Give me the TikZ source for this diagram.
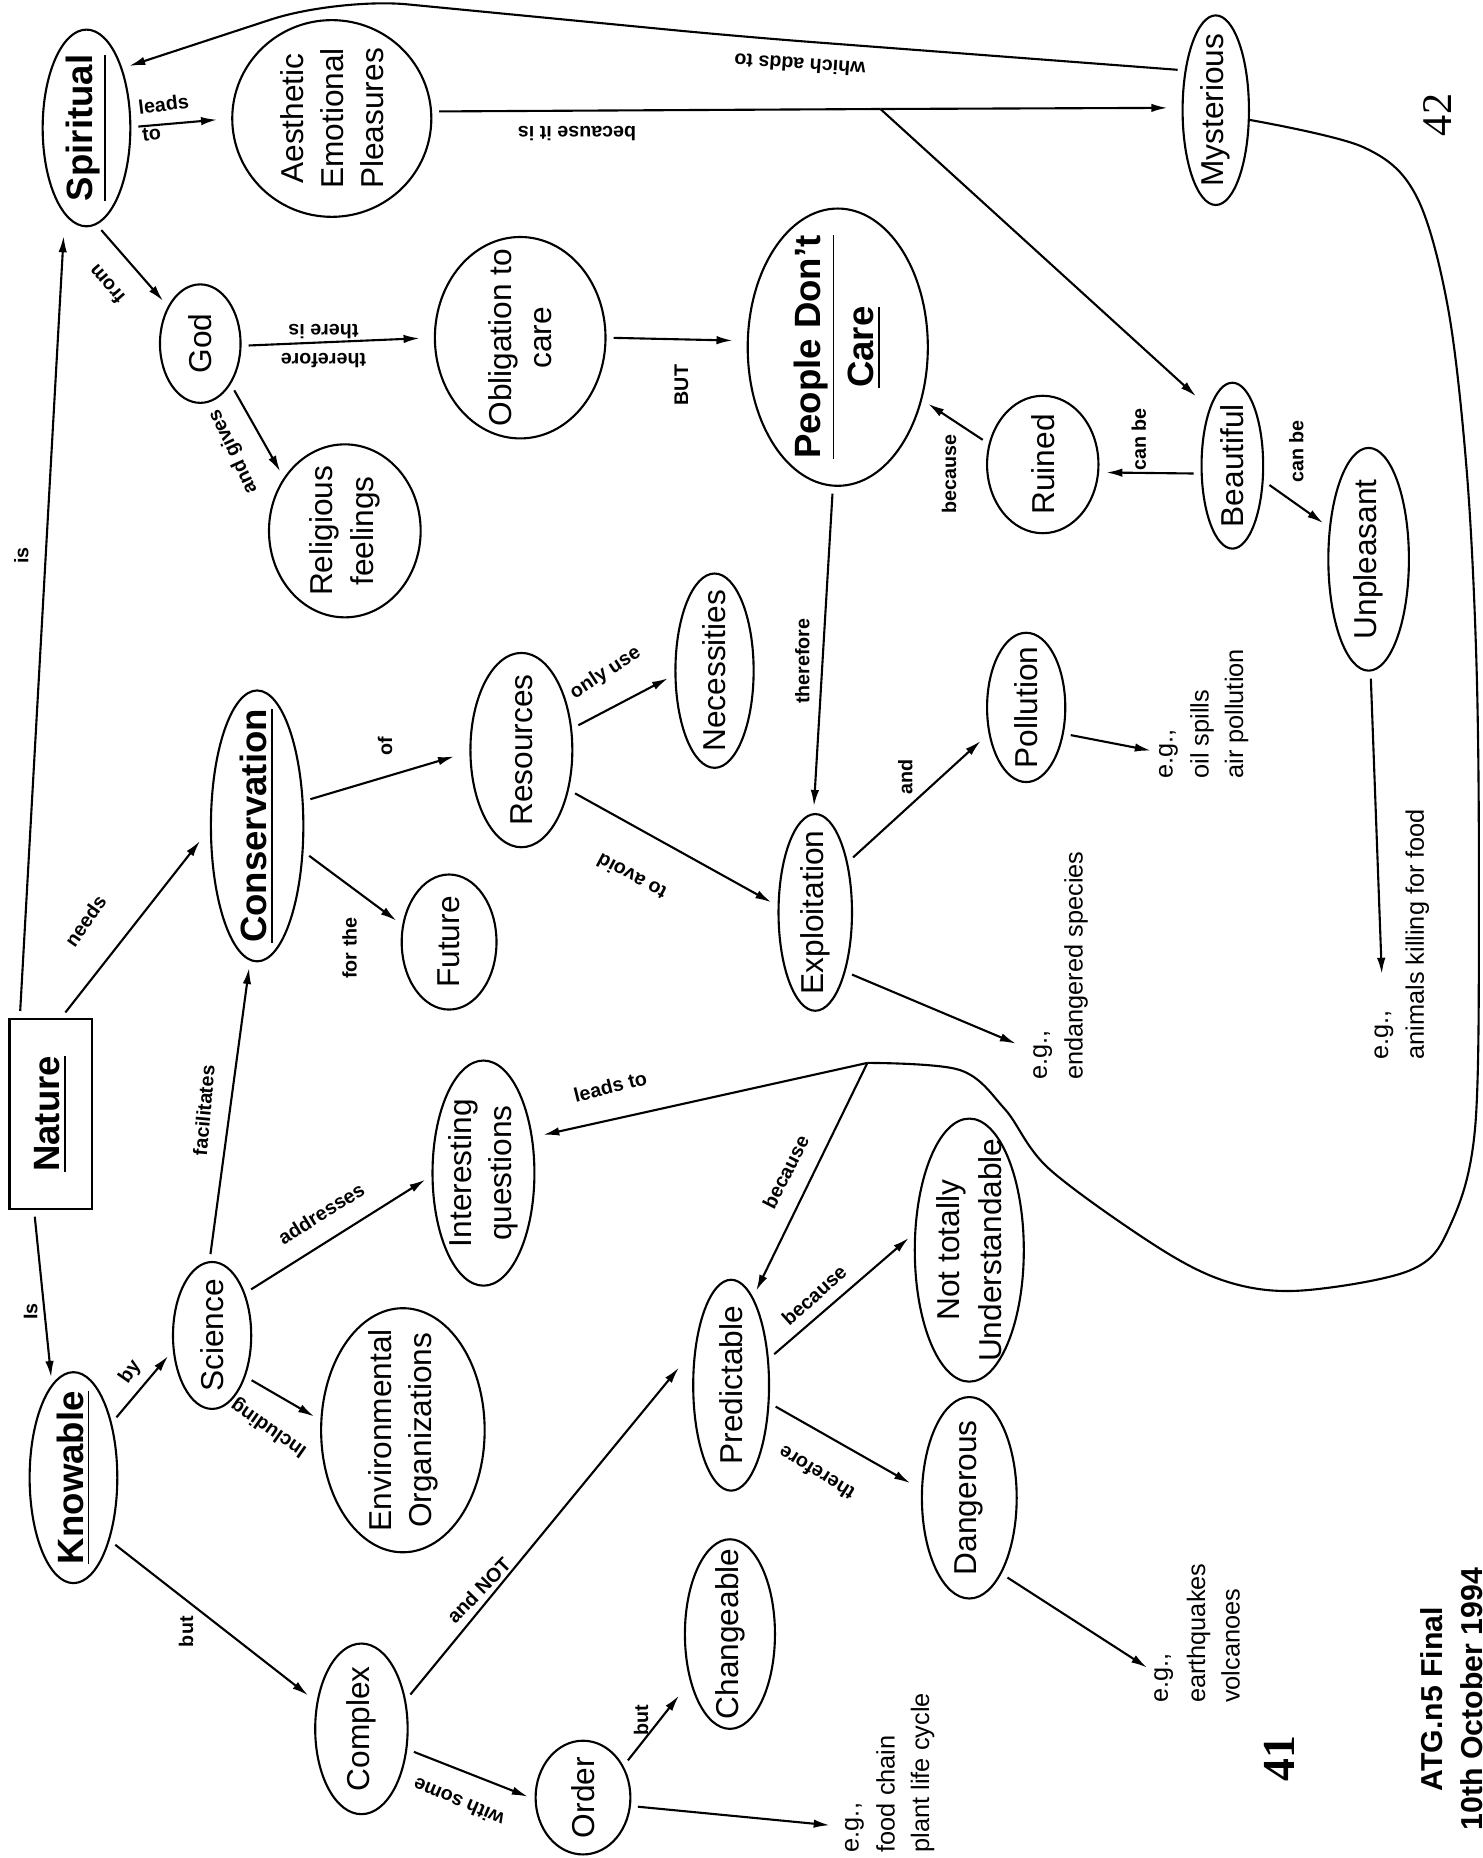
\documentclass[tikz,border=0pt]{standalone}
\usepackage{fontspec}
\setmainfont{Liberation Sans}
\newfontfamily\pagefont{Liberation Serif}
\usetikzlibrary{shapes}
\usetikzlibrary{arrows.meta}
\newcommand{\pxl}{0.011847cm}

\begin{document}
\begin{tikzpicture}[x=0.011847cm,y=-0.011847cm,line width=0.6pt]
\tikzset{concept/.style 2 args = {shape=ellipse,draw,rotate=90,inner sep=-6pt,align=center,
    minimum width=#1*\pxl,minimum height=#2*\pxl,font=\fontsize{9}{11.4}\selectfont}}
\tikzset{key/.style = {font=\fontsize{10.4}{13}\selectfont\bfseries}}
\tikzset{edge/.style = {->,> = {Latex[length=4.6pt,width=2.4pt]},shorten >=2pt,shorten <=2pt}}
\tikzset{lbl/.style = {font=\fontsize{5.6}{6.6}\selectfont\bfseries,inner sep=0pt}}
\tikzset{eg/.style = {rotate=90,anchor=west,align=left,inner sep=0pt,font=\fontsize{7.2}{9.8}\selectfont}}
\useasboundingbox (0,0) rectangle (1251,1568);

% vertices
\node[concept={166}{74},key] (spir) at (73,108) {\underline{Spiritual}};
\node[concept={166}{168}] (aep) at (280,100) {Aesthetic\\Emotional\\Pleasures};
\node[concept={160}{56}] (mys) at (1026,93) {Mysterious};
\node[concept={100}{68}] (god) at (169,290) {God};
\node[concept={170}{144}] (obl) at (439,285) {Obligation to\\care};
\node[concept={234}{152},font=\fontsize{10.4}{15}\selectfont\bfseries] (pdc) at (707,293) {\underline{People Don't}\\\underline{Care}};
\node[concept={146}{128}] (rel) at (291,448) {Religious\\feelings};
\node[concept={116}{94}] (ruin) at (880,392) {Ruined};
\node[concept={140}{52}] (beau) at (1040,393) {Beautiful};
\node[concept={188}{68}] (unp) at (1155,472) {Unpleasant};
\node[concept={164}{66}] (nec) at (603,566) {Necessities};
\node[concept={164}{86}] (res) at (440,633) {Resources};
\node[concept={228}{78},key] (cons) at (217,697) {\underline{Conservation}};
\node[concept={126}{66}] (poll) at (866,597) {Pollution};
\node[concept={166}{62}] (expl) at (688,770) {Exploitation};
\node[concept={114}{80}] (fut) at (379,795) {Future};
\node[draw,rotate=90,minimum width=160*\pxl,minimum height=70*\pxl,key] (nat) at (43,940) {\underline{Nature}};
\node[concept={190}{86}] (intq) at (408,990) {Interesting\\questions};
\node[concept={222}{92},font=\fontsize{9}{12}\selectfont] (ntu) at (818,1055) {Not totally\\Understandable};
\node[concept={178}{74},key] (know) at (62,1247) {\underline{Knowable}};
\node[concept={124}{66}] (sci) at (179,1127) {Science};
\node[concept={206}{138}] (envo) at (340,1207) {Environmental\\Organizations};
\node[concept={178}{64}] (pred) at (617,1169) {Predictable};
\node[concept={170}{80}] (dang) at (818,1264) {Dangerous};
\node[concept={160}{76}] (chg) at (616,1379) {Changeable};
\node[concept={144}{78}] (cplx) at (305,1459) {Complex};
\node[concept={96}{80}] (ord) at (492,1517) {Order};

% examples
\node[eg] (egOil) at (986,658) {e.g.,};
\node[eg] (egOilT) at (1029,658) {oil spills\\air pollution};
\node[eg] (egEnd) at (880,912) {e.g.,};
\node[eg] (egEndT) at (908,912) {endangered species};
\node[eg] (egAnim) at (1168,895) {e.g.,};
\node[eg] (egAnimT) at (1196,895) {animals killing for food};
\node[eg] (egQuake) at (982,1438) {e.g.,};
\node[eg] (egQuakeT) at (1024,1438) {earthquakes\\volcanoes};
\node[eg] (egFood) at (721,1564) {e.g.,};
\node[eg] (egFoodT) at (764,1564) {food chain\\plant life cycle};

\node[rotate=90,font=\pagefont\bfseries\fontsize{13}{13}\selectfont] (pgA) at (1080,1484) {41};
\node[rotate=90,font=\pagefont\fontsize{12}{12}\selectfont] (pgB) at (1213,97) {42};
\node[rotate=90,align=center,font=\fontsize{8.6}{11.4}\selectfont\bfseries] (stamp) at (1225,1434) {ATG.n5 Final\\10th October 1994};

% junction points
\coordinate (brk) at (743,92);
\coordinate (wmid) at (626,31);
\coordinate (wadd) at (285,-2);
\coordinate (jct) at (732,897);

%edges
\draw[edge,shorten >=6pt] (nat.18) -- (spir.166);
\draw[edge] (nat.170) -- (know.13);
\draw[edge,shorten >=4.5pt] (nat.-6) -- (cons.93);
\draw[edge,shorten >=4pt] (spir.-89) -- (aep.90);
\draw[edge] (spir.186) -- (god.41);
\draw[edge,shorten >=4pt] (god.-93) -- (obl.90);
\draw[edge] (god.-143) -- (rel.49);
\draw[edge,shorten >=4pt] (obl.-90) -- (pdc.86);
\draw[shorten <=2pt] (aep.-86) -- (brk);
\draw[edge,shorten <=0pt,shorten >=4pt] (brk) -- (mys.86);
\draw[edge,shorten <=0pt,shorten >=5pt] (brk) -- (beau.22);
\draw[edge,rounded corners=0.7cm] (mys.38) -- (wmid) -- (wadd) -- (spir.-31);
\draw plot[smooth,tension=0.55] coordinates {(mys.-106) (1150,124) (1195,165) (1222,260)
  (1238,400) (1246,560) (1248,740) (1245,950) (1223,1036) (1190,1072) (1100,1089)
  (1040,1083) (981,1055) (886,987) (848,936) (810,903) (jct)};
\draw[edge,shorten <=0pt,shorten >=3pt] (jct) -- (intq.-54);
\draw[edge,shorten <=0pt] (jct) -- (pred.-14);
\draw[edge] (pdc.178) -- (expl.1);
\draw[edge] (ruin.69) -- (pdc.-122);
\draw[edge] (beau.104) -- (ruin.-98);
\draw[edge] (beau.-116) -- (unp.51);
\draw[edge,shorten >=10pt] (unp.-179) -- (egAnim);
\draw[edge] (poll.-125) -- (egOil);
\draw[edge,shorten >=5pt] (expl.-153) -- (egEnd);
\draw[edge,shorten >=3pt] (expl.-33) -- (poll.125);
\draw[edge] (res.-130) -- (expl.80);
\draw[edge,shorten >=4.5pt] (cons.-62) -- (res.92);
\draw[edge] (cons.-119) -- (fut.70);
\draw[edge] (res.-67) -- (nec.96);
\draw[edge] (sci.2) -- (cons.177);
\draw[edge] (know.-35) -- (sci.111);
\draw[edge] (sci.-38) -- (intq.93);
\draw[edge] (sci.-141) -- (envo.83);
\draw[edge,shorten >=3pt] (know.-150) -- (cplx.59);
\draw[edge,shorten >=7pt] (cplx.-57) -- (pred.45);
\draw[edge] (cplx.-114) -- (ord.92);
\draw[edge,shorten >=5pt] (ord.-52) -- (chg.140);
\draw[edge,shorten >=4pt] (ord.-100) -- (egFood);
\draw[edge] (pred.-55) -- (ntu.73);
\draw[edge,shorten >=3.5pt] (pred.-115) -- (dang.80);
\draw[edge] (dang.-157) -- (egQuake);

% link words
\node[lbl,rotate=90] (isA) at (18,469) {is};
\node[lbl,rotate=90] (isB) at (26,1107) {Is};
\node[lbl,rotate=55] (needs) at (72,777) {needs};
\node[lbl,rotate=7] (leads) at (138,88) {leads};
\node[lbl,rotate=7] (leadsTo) at (128,113) {to};
\node[lbl,rotate=131] (from) at (90,240) {from};
\node[lbl,rotate=180,align=center,font=\fontsize{5.6}{8.1}\selectfont\bfseries] (thereIs) at (273,292) {therefore\\there is};
\node[lbl,rotate=115] (gives) at (197,381) {and gives};
\node[lbl,rotate=90] (but) at (575,325) {BUT};
\node[lbl,rotate=180] (becIs) at (487,113) {because it is};
\node[lbl,rotate=176] (adds) at (675,55) {which adds to};
\node[lbl,rotate=14] (leadsQ) at (515,917) {leads to};
\node[lbl,rotate=63] (becP) at (663,989) {because};
\node[lbl,rotate=90] (thereE) at (677,558) {therefore};
\node[lbl,rotate=90] (becR) at (801,400) {because};
\node[lbl,rotate=90] (canR) at (961,371) {can be};
\node[lbl,rotate=90] (canU) at (1094,381) {can be};
\node[lbl,rotate=90] (and) at (764,656) {and};
\node[lbl,rotate=152] (avoid) at (533,740) {to avoid};
\node[lbl,rotate=90] (of) at (325,630) {of};
\node[lbl,rotate=90] (forThe) at (295,800) {for the};
\node[lbl,rotate=33] (onlyUse) at (511,568) {only use};
\node[lbl,rotate=85] (facil) at (172,937) {facilitates};
\node[lbl,rotate=55] (by) at (110,1158) {by};
\node[lbl,rotate=32] (addr) at (271,1024) {addresses};
\node[lbl,rotate=145] (incl) at (227,1205) {Including};
\node[lbl,rotate=90] (butC) at (157,1377) {but};
\node[lbl,rotate=46] (andNot) at (404,1342) {and NOT};
\node[lbl,rotate=157] (some) at (387,1521) {with some};
\node[lbl,rotate=90] (butO) at (541,1452) {but};
\node[lbl,rotate=42] (becN) at (687,1093) {because};
\node[lbl,rotate=148] (thereD) at (689,1243) {therefore};

\end{tikzpicture}
\end{document}
